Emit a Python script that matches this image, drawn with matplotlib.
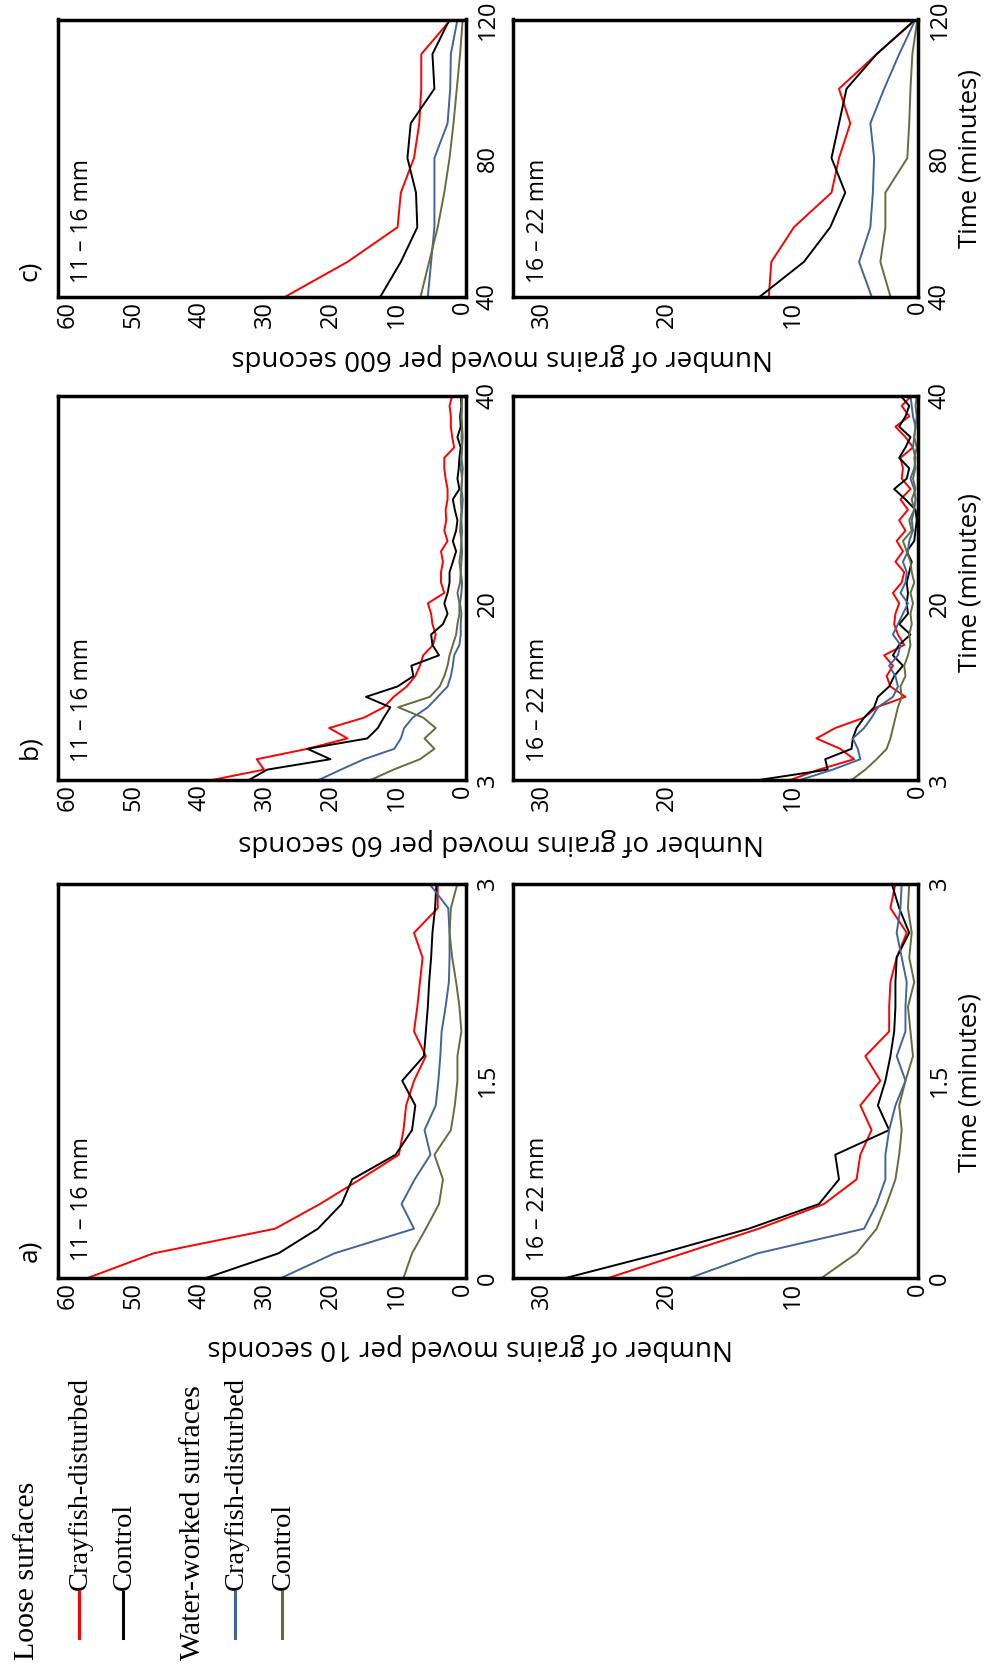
import numpy as np
import matplotlib
matplotlib.use("Agg")
import matplotlib.pyplot as plt
from matplotlib.lines import Line2D

plt.rcParams['font.family'] = ['Open Sans', 'DejaVu Sans']

# colours for the four treatments
c_loose_cray = "#ff0000"
c_loose_ctrl = "#000000"
c_ww_cray = "#41659a"
c_ww_ctrl = "#646d3d"

# a) grains moved per 10 seconds, 0-3 minutes
t_a = np.linspace(0, 3, 17)
a_small_loose_cray = [57.0, 47.0, 28.5, 21.7, 15.6, 9.7, 9.0, 8.6, 7.4, 5.6, 7.4, 6.9, 6.5, 6.1, 7.4, 3.8, 3.8]
a_small_loose_ctrl = [39.0, 28.0, 22.0, 18.4, 16.8, 10.2, 7.7, 7.2, 9.2, 5.9, 5.6, 5.3, 5.1, 4.8, 4.6, 4.2, 4.0]
a_small_ww_cray = [27.6, 19.5, 7.4, 9.3, 7.3, 4.9, 5.8, 4.1, 3.7, 3.4, 3.2, 2.6, 2.1, 2.0, 2.0, 2.2, 5.1]
a_small_ww_ctrl = [9.0, 7.7, 5.6, 3.6, 3.0, 4.3, 1.8, 1.2, 0.8, 0.8, 0.2, 0.5, 1.0, 1.6, 2.0, 1.8, 0.8]

a_large_loose_cray = [24.7, 18.7, 12.7, 7.5, 4.9, 4.6, 3.7, 4.6, 3.0, 4.2, 2.3, 2.3, 2.2, 1.7, 0.9, 2.2, 1.8]
a_large_loose_ctrl = [28.1, 20.5, 13.5, 7.9, 6.3, 6.6, 2.3, 3.2, 2.6, 2.2, 1.9, 1.8, 1.8, 1.7, 0.7, 1.5, 2.1]
a_large_ww_cray = [18.2, 12.8, 4.3, 3.3, 2.6, 2.6, 2.3, 1.8, 1.0, 1.7, 1.0, 1.0, 0.9, 1.3, 1.7, 1.4, 1.3]
a_large_ww_ctrl = [7.7, 4.9, 3.3, 2.5, 1.8, 1.5, 1.3, 1.5, 1.0, 0.4, 0.6, 0.8, 0.3, 0.7, 0.5, 0.8, 0.7]

# b) grains moved per 60 seconds, 3-40 minutes
t_b = np.arange(3, 41)
b_small_loose_cray = [38.1, 30.2, 31.3, 23.6, 17.5, 20.3, 15.0, 12.0, 10.5, 8.5, 7.2, 6.5, 6.0, 4.5, 4.1, 4.6, 4.8, 5.3, 2.8,
                      3.3, 3.3, 3.0, 3.3, 2.3, 2.8, 2.5, 2.6, 2.3, 2.3, 2.6, 2.8, 2.8, 1.3, 1.6, 1.8, 1.8, 2.0, 1.6]
b_small_loose_ctrl = [32.5, 29.7, 20.1, 23.6, 14.5, 12.9, 12.0, 11.0, 14.7, 9.9, 7.5, 7.8, 3.6, 4.6, 4.8, 3.0, 2.3, 2.8, 2.3,
                      2.0, 2.0, 1.5, 1.0, 1.5, 1.0, 0.8, 1.2, 1.5, 0.5, 0.8, 0.6, 0.5, 0.3, 0.8, 0.3, 0.4, 0.2, 0.3]
b_small_ww_cray = [21.9, 18.5, 15.0, 10.4, 9.4, 8.9, 7.6, 5.3, 3.8, 2.3, 1.8, 1.5, 1.3, 0.5, 0.3, 0.3, 0.2, 0.4, 0.2,
                   0.1, 0.3, 0.2, 0.1, 0.2, 0.1, 0.2, 0.1, 0.0, 0.2, 0.1, 0.0, 0.2, 0.1, 0.0, 0.1, 0.2, 0.1, 0.1]
b_small_ww_ctrl = [14.0, 10.5, 6.5, 4.3, 5.8, 4.1, 6.0, 9.8, 5.0, 3.5, 2.8, 2.3, 2.0, 1.5, 1.0, 0.8, 0.5, 0.5, 0.8,
                   0.4, 0.3, 0.5, 0.3, 0.2, 0.4, 0.3, 0.2, 0.3, 0.2, 0.1, 0.3, 0.2, 0.1, 0.2, 0.1, 0.2, 0.1, 0.2]

b_large_loose_cray = [10.2, 7.9, 5.1, 6.2, 8.1, 6.6, 4.3, 3.3, 1.0, 2.2, 2.5, 2.0, 2.7, 1.1, 1.6, 1.9, 1.8, 1.5, 2.0,
                      1.3, 1.1, 1.8, 1.2, 1.7, 1.0, 1.5, 0.8, 1.4, 0.6, 1.3, 1.2, 1.4, 0.4, 1.0, 1.8, 0.7, 1.3, 0.5]
b_large_loose_ctrl = [12.7, 7.2, 7.4, 5.3, 5.2, 4.9, 4.3, 3.5, 3.2, 2.3, 1.9, 1.2, 2.0, 1.5, 0.6, 1.5, 0.8, 0.9, 0.8,
                      0.9, 0.7, 0.5, 0.9, 0.3, 0.2, 0.1, 0.2, 1.0, 1.9, 0.9, 0.7, 1.5, 1.0, 0.6, 1.5, 1.0, 0.7, 1.4]
b_large_ww_cray = [9.4, 6.8, 4.6, 4.8, 5.2, 4.3, 3.7, 3.2, 2.0, 1.6, 1.8, 2.3, 1.6, 1.4, 2.0, 1.6, 1.2, 0.8, 1.4,
                   1.0, 0.9, 1.2, 0.8, 0.7, 0.4, 0.5, 0.3, 0.2, 0.3, 0.6, 0.3, 0.2, 0.4, 0.3, 0.2, 0.4, 0.5, 0.6]
b_large_ww_ctrl = [5.3, 4.2, 3.3, 2.5, 2.2, 2.0, 1.8, 1.6, 1.3, 1.4, 1.0, 1.1, 0.8, 0.6, 0.7, 0.5, 0.6, 0.4, 0.6,
                   0.3, 0.5, 0.6, 0.9, 1.2, 0.5, 0.7, 0.3, 0.5, 0.2, 0.4, 0.2, 0.3, 0.1, 0.3, 0.2, 0.1, 0.2, 0.1]

# c) grains moved per 600 seconds, 40-120 minutes
t_c = np.arange(40, 121, 10)
c_small_loose_cray = [26.9, 17.5, 9.9, 9.4, 7.4, 6.6, 6.3, 6.3, 1.8]
c_small_loose_ctrl = [12.5, 9.4, 6.9, 7.1, 8.4, 7.9, 4.3, 4.6, 2.0]
c_small_ww_cray = [5.3, 4.8, 4.3, 4.3, 4.3, 2.3, 1.9, 1.8, 0.8]
c_small_ww_ctrl = [6.4, 5.1, 3.8, 2.8, 2.0, 1.4, 0.9, 0.4, 0.0]

c_large_loose_cray = [11.9, 11.7, 9.9, 6.9, 6.3, 5.4, 6.3, 3.3, 0.2]
c_large_loose_ctrl = [12.6, 9.1, 7.0, 5.8, 6.9, 6.3, 5.7, 3.3, 0.2]
c_large_ww_cray = [3.7, 4.7, 3.8, 3.6, 3.5, 3.8, 2.7, 1.5, 0.2]
c_large_ww_ctrl = [2.2, 3.0, 2.6, 2.6, 0.85, 0.7, 0.6, 0.45, 0.05]

W, H = 997, 1673
fig = plt.figure(figsize=(W / 100, H / 100), dpi=100)


def fx(px):
    return px / W


def fy(py):
    return 1 - py / H


def panel(box, t, series, vmax, vmin, vticks, tticks, tlabels):
    x0, x1, y0, y1 = box  # pixel box, y measured from top
    ax = fig.add_axes([fx(x0), fy(y1), fx(x1 - x0), (y1 - y0) / H])
    # the figure is turned on its side: counts run right-to-left, time runs upward
    for vals, col in zip(series, [c_loose_cray, c_loose_ctrl, c_ww_cray, c_ww_ctrl]):
        ax.plot(vals, t, color=col, lw=1.4)
    ax.set_xlim(vmax, vmin)
    ax.set_ylim(t[0], t[-1])
    ax.set_xticks(vticks)
    ax.set_xticklabels([str(v) for v in vticks], rotation=90, fontsize=17)
    ax.yaxis.tick_right()
    ax.set_yticks(tticks)
    ax.set_yticklabels(tlabels, rotation=90, va='center', fontsize=17)
    ax.tick_params(axis='x', length=0, pad=3)
    ax.tick_params(axis='y', length=0, pad=7)
    for s in ax.spines.values():
        s.set_linewidth(2.5)
    return ax


left = (58, 466)
right = (513, 918)
row_c = (19.5, 296.5)
row_b = (395.5, 780)
row_a = (883.5, 1278)

ticks60 = [0, 10, 20, 30, 40, 50, 60]
ticks30 = [0, 10, 20, 30]

panel(left + row_a, t_a, [a_small_loose_cray, a_small_loose_ctrl, a_small_ww_cray, a_small_ww_ctrl],
      61.5, -0.5, ticks60, [0, 1.5, 3], ["0", "1.5", "3"])
panel(right + row_a, t_a, [a_large_loose_cray, a_large_loose_ctrl, a_large_ww_cray, a_large_ww_ctrl],
      32.3, 0, ticks30, [0, 1.5, 3], ["0", "1.5", "3"])
panel(left + row_b, t_b, [b_small_loose_cray, b_small_loose_ctrl, b_small_ww_cray, b_small_ww_ctrl],
      61.5, -0.5, ticks60, [3, 20, 40], ["3", "20", "40"])
panel(right + row_b, t_b, [b_large_loose_cray, b_large_loose_ctrl, b_large_ww_cray, b_large_ww_ctrl],
      32.3, 0, ticks30, [3, 20, 40], ["3", "20", "40"])
panel(left + row_c, t_c, [c_small_loose_cray, c_small_loose_ctrl, c_small_ww_cray, c_small_ww_ctrl],
      61.5, -0.5, ticks60, [40, 80, 120], ["40", "80", "120"])
panel(right + row_c, t_c, [c_large_loose_cray, c_large_loose_ctrl, c_large_ww_cray, c_large_ww_ctrl],
      32.3, 0, ticks30, [40, 80, 120], ["40", "80", "120"])

# panel letters and size classes
for letter, py in [("a)", 1251), ("b)", 747), ("c)", 271)]:
    fig.text(fx(30), fy(py), letter, rotation=90, ha='center', va='center', fontsize=19)
for py in [1261, 762, 283]:
    fig.text(fx(82), fy(py), "11 \u2013 16 mm", rotation=90, ha='center', va='bottom', fontsize=16.5)
    fig.text(fx(538), fy(py), "16 \u2013 22 mm", rotation=90, ha='center', va='bottom', fontsize=16.5)

# axis titles
for py in [1082, 582, 159]:
    fig.text(fx(970), fy(py), "Time (minutes)", rotation=90, ha='center', va='center', fontsize=18.5)
for label, px, py in [("Number of grains moved per 10 seconds", 470, 1347),
                      ("Number of grains moved per 60 seconds", 501, 842),
                      ("Number of grains moved per 600 seconds", 502, 357)]:
    fig.text(fx(px), fy(py), label, rotation=180, ha='center', va='center', fontsize=20)

# legend, drawn sideways like the rest of the figure
serif = ['Liberation Serif', 'DejaVu Serif']
fig.text(fx(27), fy(1660), "Loose surfaces", rotation=90, ha='center', va='bottom', fontsize=21.5, family=serif)
fig.text(fx(193), fy(1660), "Water-worked surfaces", rotation=90, ha='center', va='bottom', fontsize=21.5,
         family=serif)
for px, col, name in [(79, c_loose_cray, "Crayfish-disturbed"), (123, c_loose_ctrl, "Control"),
                      (235, c_ww_cray, "Crayfish-disturbed"), (282, c_ww_ctrl, "Control")]:
    fig.add_artist(Line2D([fx(px), fx(px)], [fy(1638), fy(1592)], color=col, lw=2.2))
    fig.text(fx(px + 1), fy(1590), name, rotation=90, ha='center', va='bottom', fontsize=20.5, family=serif)

fig.savefig("out.png", dpi=100)
